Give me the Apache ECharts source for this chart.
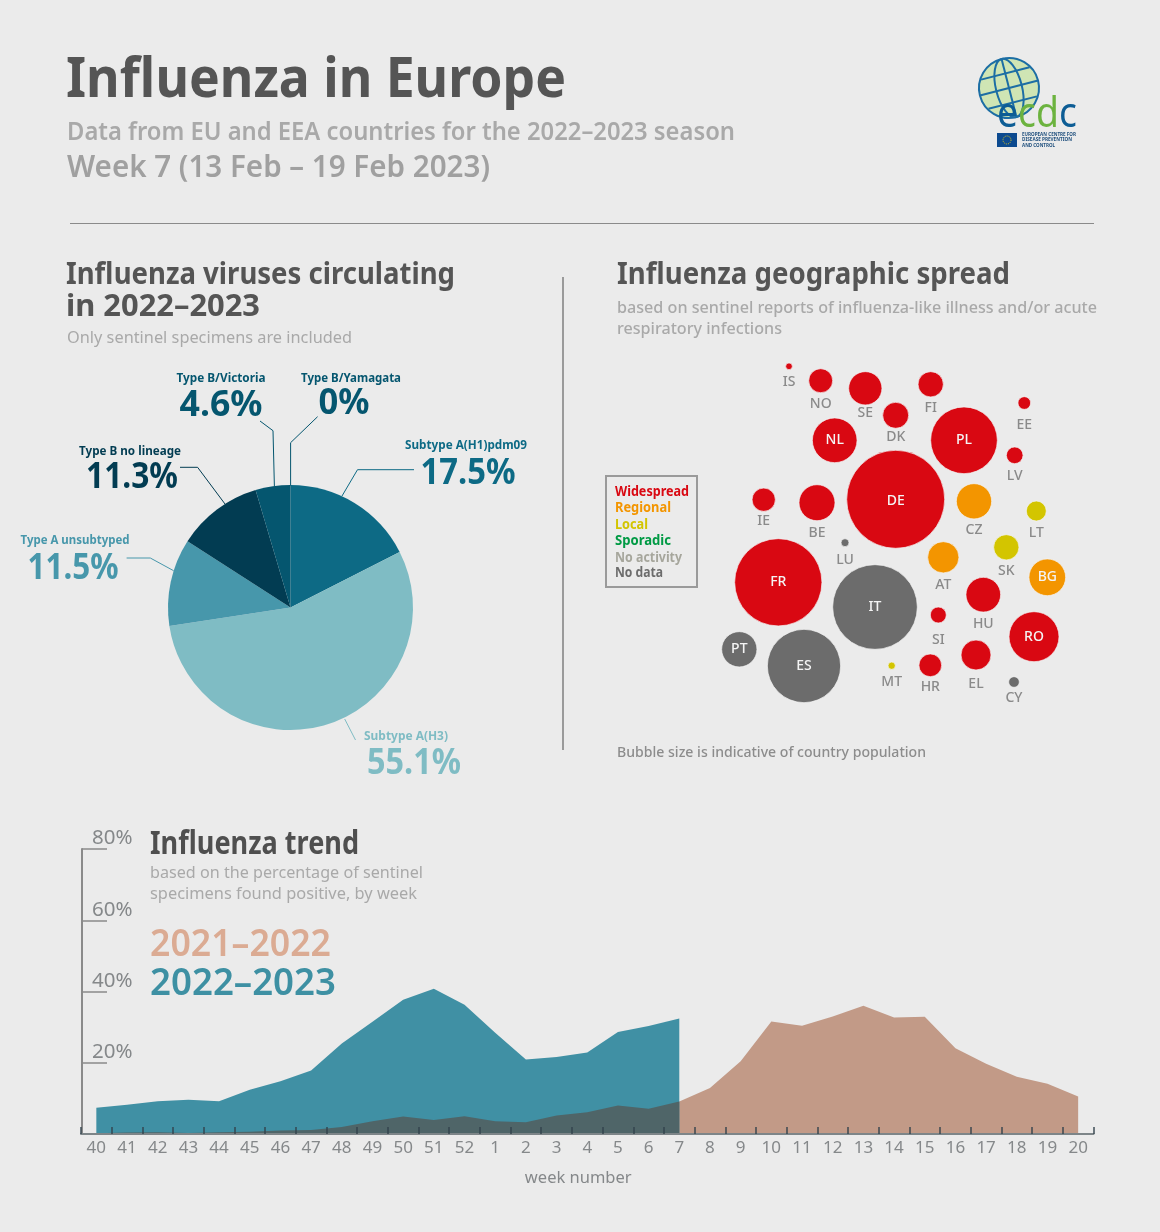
<!DOCTYPE html>
<html>
<head>
<meta charset="utf-8">
<title>Influenza in Europe</title>
<script src="https://cdn.jsdelivr.net/npm/echarts@6/dist/echarts.min.js"></script>
<style>
  html, body { margin: 0; padding: 0; background: #ebebeb; }
  #main { width: 1160px; height: 1232px; }
</style>
</head>
<body>
<div id="main"></div>
<script>
// virus shares, clockwise from the top of the pie
const virusNames = ['Subtype A(H1)pdm09', 'Subtype A(H3)', 'Type A unsubtyped', 'Type B no lineage', 'Type B/Victoria', 'Type B/Yamagata'];
const virusShares = [17.5, 55.1, 11.5, 11.3, 4.6, 0];
const virusColors = ['#0d6a85', '#7fbcc4', '#4797ab', '#023c52', '#05566f', '#05566f'];

// countries: position in the bubble map (arbitrary layout units), bubble size, activity level
const countries = ['IS', 'NO', 'SE', 'FI', 'DK', 'EE', 'NL', 'PL', 'LV', 'DE', 'IE', 'BE', 'CZ', 'LT', 'LU', 'SK', 'AT', 'BG', 'FR', 'HU', 'IT', 'SI', 'RO', 'PT', 'ES', 'EL', 'MT', 'HR', 'CY'];
const countryX = [189, 220.7, 265.3, 330.7, 295.7, 424.3, 234.7, 364, 414.7, 295.7, 163.7, 217, 374, 436.3, 245, 406.3, 343.3, 447.3, 178.3, 383.3, 275, 338.3, 434, 139.3, 204, 376, 291.7, 330.3, 414];
const countryY = [16.3, 30.7, 38.3, 34.3, 65.3, 53, 90.3, 90.3, 105.3, 149.3, 149.7, 152.7, 151.3, 161, 192.7, 197.3, 207.3, 227.3, 232.3, 244.7, 257, 265, 286.7, 299.3, 316, 305, 315.7, 315.3, 332];
const countrySize = [6.7, 24, 33.3, 25.3, 26, 12.7, 44.7, 66.7, 16.7, 98, 23.3, 36, 35.3, 20, 8, 25.3, 31.3, 36.7, 87.3, 34.7, 84.7, 16, 50, 35.3, 73.3, 30, 7.3, 22.7, 10.7];
const countryLevel = ['Widespread', 'Widespread', 'Widespread', 'Widespread', 'Widespread', 'Widespread', 'Widespread', 'Widespread', 'Widespread', 'Widespread', 'Widespread', 'Widespread', 'Regional', 'Local', 'No data', 'Local', 'Regional', 'Regional', 'Widespread', 'Widespread', 'No data', 'Widespread', 'Widespread', 'No data', 'No data', 'Widespread', 'Local', 'Widespread', 'No data'];
const countryLabelDrop = [15.5, 23.7, 25, 23.7, 21.7, 22, 0, 0, 21, 1.5, 21.7, 30.3, 28.3, 21.7, 17, 23.7, 28, 0, 0, 29, 0, 25, 0, 0, 0, 29, 16, 22, 16];

const levelNames = ['Widespread', 'Regional', 'Local', 'Sporadic', 'No activity', 'No data'];
const levelColors = ['#d90812', '#f39500', '#d3c500', '#009a44', '#a6a69c', '#6c6c6c'];

// weekly share of positive specimens, %
const weeks = ['40', '41', '42', '43', '44', '45', '46', '47', '48', '49', '50', '51', '52', '1', '2', '3', '4', '5', '6', '7', '8', '9', '10', '11', '12', '13', '14', '15', '16', '17', '18', '19', '20'];
const positive2122 = [0.2, 0.4, 0.5, 0.3, 0.5, 0.6, 1.0, 1.1, 2.0, 3.6, 4.9, 3.9, 5.0, 3.6, 3.3, 5.2, 6.1, 8.0, 7.1, 9.1, 12.9, 20.4, 31.6, 30.4, 33.0, 36.0, 32.7, 32.9, 24.1, 19.7, 16.1, 14.1, 10.5];
const positive2223 = [7.4, 8.2, 9.2, 9.6, 9.2, 12.4, 14.8, 17.8, 25.4, 31.5, 37.7, 40.8, 36.3, 28.4, 20.9, 21.6, 22.9, 28.6, 30.3, 32.4];

const FONT = '"Noto Sans"';
const measure = document.createElement('canvas').getContext('2d');

// text squeezed to a given width, the installed fonts are wider than the original one
function label(text, x, y, size, fill, weight, width, align) {
    measure.font = weight + ' ' + size + 'px ' + FONT;
    return {
        type: 'text', x: x, y: y + size * 0.055, silent: true,
        scaleX: width ? width / measure.measureText(text).width : 1,
        style: {
            text: text, fill: fill, fontFamily: FONT, fontSize: size, fontWeight: weight,
            align: align || 'left', verticalAlign: 'middle'
        }
    };
}

function leader(points, color) {
    return {
        type: 'polyline', silent: true,
        shape: { points: points },
        style: { stroke: color, lineWidth: 1, fill: null }
    };
}

const GREY_DARK = '#555555';
const GREY_LIGHT = '#a9a9a9';

const pageTexts = [
    label('Influenza in Europe', 66, 78, 56, GREY_DARK, 700, 500),
    label('Data from EU and EEA countries for the 2022–2023 season', 67, 131, 25, GREY_LIGHT, 600, 668),
    label('Week 7 (13 Feb – 19 Feb 2023)', 67, 166, 31, '#a0a0a0', 600, 423),
    label('Influenza viruses circulating', 66, 274, 30, GREY_DARK, 700, 389),
    label('in 2022–2023', 66, 306, 30, GREY_DARK, 700, 194),
    label('Only sentinel specimens are included', 67, 338, 16, GREY_LIGHT, 400, 285),
    label('Influenza geographic spread', 617, 274, 30, GREY_DARK, 700, 393),
    label('based on sentinel reports of influenza-like illness and/or acute', 617, 307, 16.5, GREY_LIGHT, 500, 480),
    label('respiratory infections', 617, 328, 16.5, GREY_LIGHT, 500, 165),
    label('Bubble size is indicative of country population', 617, 752, 15, '#8c8c8c', 500, 309),
    label('Influenza trend', 150, 843, 33, '#4f4f4f', 700, 209),
    label('based on the percentage of sentinel', 150, 872, 17, GREY_LIGHT, 400, 273),
    label('specimens found positive, by week', 150, 893, 17, GREY_LIGHT, 400, 267),
    label('2021–2022', 150, 943, 38, '#dbab93', 600, 181),
    label('2022–2023', 150, 982, 38, '#3e90a3', 600, 186)
];

const rules = [
    { type: 'line', silent: true, shape: { x1: 70, y1: 223.5, x2: 1094, y2: 223.5 }, style: { stroke: '#8a8a8a', lineWidth: 1 } },
    { type: 'line', silent: true, shape: { x1: 563, y1: 277, x2: 563, y2: 750 }, style: { stroke: '#9a9a9a', lineWidth: 2 } }
];

// pie callouts, same order as virusNames
const calloutName = [[466, 445, 122], [406, 736, 84], [75, 540, 109], [130, 451, 102], [221, 378, 89], [351, 378, 100]];
const calloutValue = [[468, 472, 95], [414, 762, 94], [73, 567, 91], [132, 476, 92], [221, 404, 83], [344, 402, 51]];
const calloutLines = [
    [[414, 469.7], [357.5, 469.7], [342, 496]],
    [[344.7, 719], [355.5, 740]],
    [[126.6, 558], [150.3, 558], [173.6, 570.7]],
    [[180, 467.3], [197.6, 467.3], [225, 504]],
    [[260, 421], [273, 430.7], [274.4, 486.7]],
    [[317.6, 416.7], [290.6, 442.7], [290.6, 485.7]]
];

const callouts = [];
virusNames.forEach(function (name, i) {
    const color = virusColors[i];
    callouts.push(label(name, calloutName[i][0], calloutName[i][1], 12.5, color, 700, calloutName[i][2], 'center'));
    callouts.push(label(virusShares[i] + '%', calloutValue[i][0], calloutValue[i][1], 36, color, 700, calloutValue[i][2], 'center'));
    callouts.push(leader(calloutLines[i], color));
});

// legend box of the bubble map
const legendRows = [[491, 74], [507, 56], [524, 33], [540, 56], [557, 67], [572, 48]];
const legendBox = [{
    type: 'rect', silent: true,
    shape: { x: 606, y: 476, width: 91, height: 111 },
    style: { fill: null, stroke: '#9a9a9a', lineWidth: 2 }
}];
levelNames.forEach(function (name, i) {
    legendBox.push(label(name, 615, legendRows[i][0], 14, levelColors[i], 700, legendRows[i][1]));
});

// ecdc logo, rough
const logo = [
    {
        type: 'group', x: 1009, y: 88, rotation: 0.25, silent: true,
        children: [
            { type: 'circle', shape: { cx: 0, cy: 0, r: 30 }, style: { fill: '#cfe5b4', stroke: '#1c6ea4', lineWidth: 2 } },
            { type: 'ellipse', shape: { cx: 0, cy: 0, rx: 13, ry: 30 }, style: { fill: null, stroke: '#1c6ea4', lineWidth: 2 } },
            { type: 'line', shape: { x1: 0, y1: -30, x2: 0, y2: 30 }, style: { stroke: '#1c6ea4', lineWidth: 2 } },
            { type: 'line', shape: { x1: -30, y1: 0, x2: 30, y2: 0 }, style: { stroke: '#1c6ea4', lineWidth: 2 } },
            { type: 'line', shape: { x1: -25, y1: -15, x2: 25, y2: -15 }, style: { stroke: '#1c6ea4', lineWidth: 2 } },
            { type: 'line', shape: { x1: -25, y1: 15, x2: 25, y2: 15 }, style: { stroke: '#1c6ea4', lineWidth: 2 } }
        ]
    },
    {
        type: 'text', x: 997, y: 115, scaleX: 0.91, silent: true,
        style: {
            text: '{b|e}{g|cd}{b|c}', verticalAlign: 'middle',
            rich: {
                b: { fontFamily: FONT, fontSize: 41, fill: '#0d5d95' },
                g: { fontFamily: FONT, fontSize: 41, fill: '#6cb33f' }
            }
        }
    },
    { type: 'rect', silent: true, shape: { x: 997, y: 133, width: 20, height: 14 }, style: { fill: '#0c4a8f' } },
    { type: 'circle', silent: true, shape: { cx: 1007, cy: 140, r: 4 }, style: { fill: null, stroke: '#e3c81d', lineWidth: 1, lineDash: [1, 1] } },
    label('EUROPEAN CENTRE FOR', 1022, 134, 5.5, '#1f4f7d', 700, 54),
    label('DISEASE PREVENTION', 1022, 139.5, 5.5, '#1f4f7d', 700, 50),
    label('AND CONTROL', 1022, 145, 5.5, '#1f4f7d', 700, 33)
];

const bubbleData = countries.map(function (code, i) {
    const inside = countryLabelDrop[i] < 2;
    return {
        name: code,
        value: [countryX[i], countryY[i], countrySize[i]],
        itemStyle: { color: levelColors[levelNames.indexOf(countryLevel[i])] },
        label: {
            offset: [0, countryLabelDrop[i]],
            color: inside ? '#f4f4f4' : '#8a8a8a'
        }
    };
});

const option = {
    backgroundColor: '#ebebeb',
    animation: false,
    textStyle: { fontFamily: FONT },
    grid: [
        { left: 600, top: 350, width: 500, height: 420 },
        { left: 81, top: 849, width: 1012.5, height: 285 }
    ],
    xAxis: [
        { gridIndex: 0, type: 'value', min: 0, max: 500, show: false },
        {
            gridIndex: 1, type: 'category', data: weeks, zlevel: 1,
            name: 'week number', nameLocation: 'middle', nameGap: 36,
            nameTextStyle: { color: '#85888a', fontSize: 16.5, padding: [0, 18, 0, 0] },
            axisLine: { lineStyle: { color: '#7d8588', width: 2 } },
            axisTick: { show: true, inside: true, length: 7, interval: 0, lineStyle: { color: 'rgba(50,65,75,0.7)', width: 2 } },
            axisLabel: { color: '#85888a', fontSize: 17, margin: 6, interval: 0 }
        }
    ],
    yAxis: [
        { gridIndex: 0, type: 'value', min: 0, max: 420, inverse: true, show: false },
        {
            gridIndex: 1, type: 'value', min: 0, max: 80, interval: 20, z: 1, offset: -1,
            splitLine: { show: false },
            axisLine: { show: true, lineStyle: { color: '#8a8a8a', width: 2 } },
            axisTick: { show: true, inside: true, length: 25, lineStyle: { color: '#8a8a8a', width: 1.5 } },
            axisLabel: {
                inside: true, margin: 10, color: '#85888a', fontSize: 20.5, verticalAlign: 'bottom',
                formatter: function (v) { return v === 0 ? '' : v + '%'; }
            }
        }
    ],
    series: [
        {
            type: 'pie', silent: true,
            center: [290.5, 607.5], radius: [0, 122.5],
            startAngle: 90, clockwise: true,
            label: { show: false }, labelLine: { show: false },
            color: virusColors,
            data: virusNames.map(function (name, i) { return { name: name, value: virusShares[i] }; })
        },
        {
            type: 'scatter', silent: true, xAxisIndex: 0, yAxisIndex: 0,
            symbolSize: function (v) { return v[2]; },
            itemStyle: { borderColor: '#f3f3f3', borderWidth: 0.7, opacity: 1 },
            label: {
                show: true, position: 'inside', fontSize: 14, fontWeight: 500,
                formatter: function (p) { return p.name; }
            },
            data: bubbleData
        },
        {
            name: '2021–2022', type: 'line', xAxisIndex: 1, yAxisIndex: 1, silent: true,
            symbol: 'none', z: 2, lineStyle: { width: 0 },
            areaStyle: { color: '#c29a87', opacity: 1 },
            data: positive2122
        },
        {
            name: '2022–2023', type: 'line', xAxisIndex: 1, yAxisIndex: 1, silent: true,
            symbol: 'none', z: 3, lineStyle: { width: 0 },
            areaStyle: { color: '#4090a4', opacity: 1 },
            data: positive2223
        },
        {
            // where both seasons overlap the fill goes dark
            name: 'overlap', type: 'line', xAxisIndex: 1, yAxisIndex: 1, silent: true,
            symbol: 'none', z: 4, lineStyle: { width: 0 },
            areaStyle: { color: '#4f6568', opacity: 1 },
            data: positive2122.slice(0, positive2223.length)
        }
    ],
    graphic: { elements: [].concat(rules, pageTexts, callouts, legendBox, logo) }
};

const myChart = echarts.init(document.getElementById('main'));
myChart.setOption(option);
</script>
</body>
</html>
